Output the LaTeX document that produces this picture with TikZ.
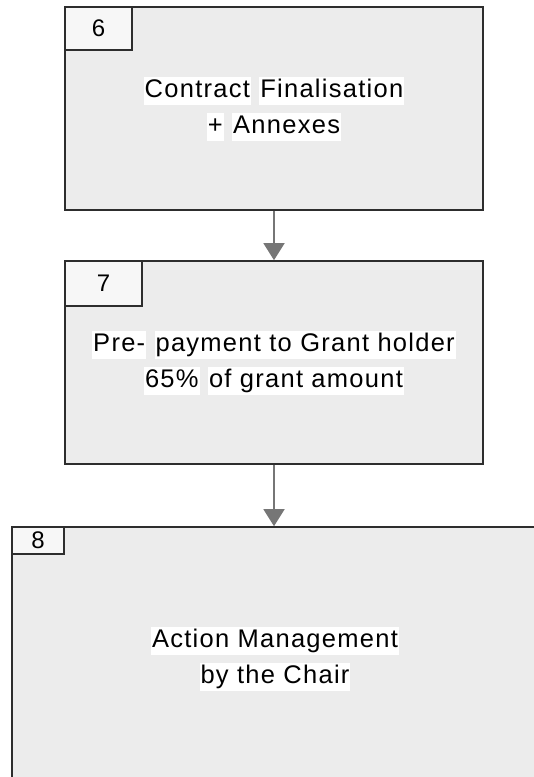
\documentclass[tikz,border=0pt]{standalone}
\usepackage{fontspec}
\setmainfont{Liberation Sans}[LetterSpace=5]
\usepackage{tikz}
\usetikzlibrary{arrows.meta}

\definecolor{boxfill}{RGB}{236,236,236}
\definecolor{tabfill}{RGB}{247,247,247}
\definecolor{boxline}{RGB}{45,45,45}
\definecolor{arrowgrey}{RGB}{118,118,118}

\newcommand{\hl}[1]{{\setlength{\fboxsep}{1pt}\colorbox{white}{\rule{0pt}{20pt}\rule[-6pt]{0pt}{6pt}#1}}}

\begin{document}
\begin{tikzpicture}[x=1pt,y=-1pt,
  stagebox/.style={draw=boxline, line width=1.6pt, fill=boxfill, inner sep=0pt, align=center,
    font=\fontsize{25.5}{36}\selectfont},
  tabbox/.style={draw=boxline, line width=1.6pt, fill=tabfill, inner sep=0pt, anchor=north west,
    font=\fontsize{24}{26}\selectfont},
  flowarrow/.style={draw=arrowgrey, line width=1.5pt, -{Triangle[width=21pt,length=17pt]}, arrowgrey}]
%set diagram size of the reference
\useasboundingbox (0,0) rectangle (534,777);

%Shape: Rectangle 6
\node [stagebox, minimum width=418, minimum height=203] (box6) at (274,108.5)
  {\hl{Contract} \hl{Finalisation}\\\hl{+} \hl{Annexes}};
\node [tabbox, minimum width=67, minimum height=43] (tab6) at (box6.north west) {6};

%Shape: Rectangle 7
\node [stagebox, minimum width=418, minimum height=203] (box7) at (274,362.5)
  {\hl{Pre-} \hl{payment to Grant holder}\\\hl{65\%} \hl{of grant amount}};
\node [tabbox, minimum width=77, minimum height=45] (tab7) at (box7.north west) {7};

%Shape: Rectangle 8
\node [stagebox, minimum width=526, minimum height=263] (box8) at (275,658.5)
  {\hl{Action Management}\\\hl{by the Chair}};
\node [tabbox, minimum width=52, minimum height=27] (tab8) at (box8.north west) {8};

% Connection
\draw [flowarrow] (box6.south) -- (box7.north);
% Connection
\draw [flowarrow] (box7.south) -- (box7.south |- box8.north);

\end{tikzpicture}
\end{document}
